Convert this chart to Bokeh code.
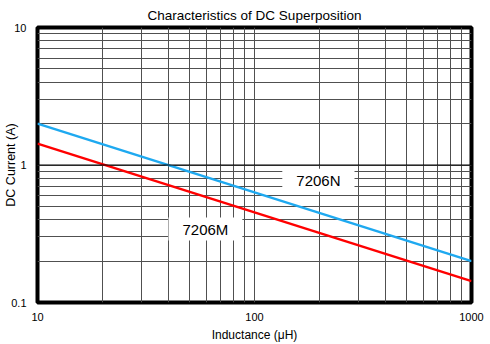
from bokeh.plotting import figure
from bokeh.models import FixedTicker, Label, Span, Title
from bokeh.embed import file_html
from bokeh.resources import INLINE

# Data
inductance = [10, 1000]                 # µH
current_7206N = [2.0, 0.2]              # A
current_7206M = [1.43, 0.143]           # A
x_ticks = [10, 100, 1000]
y_ticks = [0.1, 1, 10]
x_grid = [m * 10 ** d for d in (1, 2) for m in range(1, 10)] + [1000]
y_grid = [round(m * 10 ** d, 3) for d in (-1, 0) for m in range(1, 10)] + [10]

FONT = "Liberation Sans"

p = figure(width=490, height=344, x_axis_type="log", y_axis_type="log",
           x_range=(10, 1000), y_range=(0.1, 10),
           output_backend="svg", toolbar_location=None,
           min_border_left=37, min_border_right=19, min_border_top=27, min_border_bottom=42)

p.title = Title(text="Characteristics of DC Superposition", align="center",
                text_font=FONT, text_font_size="13.5px", text_font_style="normal",
                text_color="black", standoff=9)

p.outline_line_color = "black"
p.outline_line_width = 4

for ax in (p.xaxis[0], p.yaxis[0]):
    ax.axis_line_color = None
    ax.major_tick_line_color = None
    ax.minor_tick_line_color = None
    ax.major_tick_in = 0
    ax.major_tick_out = 0
    ax.minor_tick_in = 0
    ax.minor_tick_out = 0
    ax.major_label_text_font = FONT
    ax.major_label_text_font_size = "11px"
    ax.major_label_text_color = "black"
    ax.axis_label_text_font = FONT
    ax.axis_label_text_font_size = "12px"
    ax.axis_label_text_font_style = "normal"
    ax.axis_label_text_color = "black"

p.xaxis.ticker = FixedTicker(ticks=x_ticks)
p.yaxis.ticker = FixedTicker(ticks=y_ticks)
p.xaxis.major_label_overrides = {10: "10", 100: "100", 1000: "1000"}
p.yaxis.major_label_overrides = {0.1: "0.1", 1: "1", 10: "10"}
p.xaxis.major_label_standoff = 10
p.yaxis.major_label_standoff = 11
p.xaxis.axis_label = "Inductance (μH)"
p.xaxis.axis_label_standoff = 4
p.yaxis.axis_label = "DC Current (A)"
p.yaxis.axis_label_text_font_size = "12.5px"
p.yaxis.axis_label_standoff = -10

p.xgrid.ticker = FixedTicker(ticks=x_grid)
p.ygrid.ticker = FixedTicker(ticks=y_grid)
for g in (p.xgrid[0], p.ygrid[0]):
    g.grid_line_color = "#505050"
    g.grid_line_width = 1
    g.grid_line_alpha = 1

p.add_layout(Span(location=1, dimension="width", line_color="black", line_width=1.2))

p.line(inductance, current_7206N, line_color="#1ea9f0", line_width=2.5)
p.line(inductance, current_7206M, line_color="#ff0000", line_width=2.5)

p.add_layout(Label(x=197, y=0.774, text="7206N", text_align="center", text_baseline="middle",
                   text_font=FONT, text_font_size="15px", text_color="black",
                   background_fill_color="white", padding=(14, 3)))
p.add_layout(Label(x=59.4, y=0.342, text="7206M", text_align="center", text_baseline="middle",
                   text_font=FONT, text_font_size="15px", text_color="black",
                   background_fill_color="white", padding=(14, 3)))

open("out.html", "w").write(file_html(p, INLINE))
